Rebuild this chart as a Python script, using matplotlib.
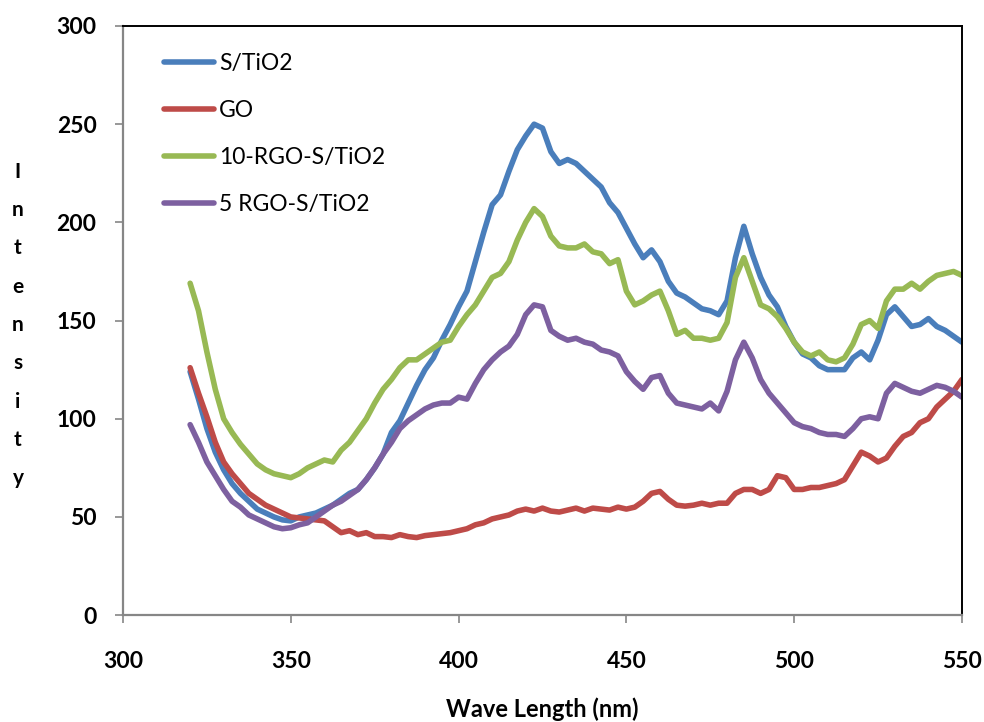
import numpy as np
import matplotlib
matplotlib.use("Agg")
import matplotlib.pyplot as plt

plt.rcParams['font.family'] = ['Lato', 'DejaVu Sans']

# Wavelength grid (nm)
wavelength = np.arange(320, 550.01, 2.5)

s_tio2 = [124, 110, 95, 83, 74, 67, 62, 58, 54, 52, 50, 48.5, 48, 50, 51, 52, 54, 56, 59, 62,
          64, 69, 75, 82, 93, 99, 108, 117, 125, 131, 140, 148, 157, 165, 180, 195, 209, 214, 226, 237,
          244, 250, 248, 236, 230, 232, 230, 226, 222, 218, 210, 205, 197, 189, 182, 186, 180, 170, 164, 162,
          159, 156, 155, 153, 160, 182, 198, 184, 172, 163, 157, 147, 139, 133, 131, 127, 125, 125, 125, 131,
          134, 130, 140, 153, 157, 152, 147, 148, 151, 147, 145, 142, 139]

go = [126, 113, 101, 88, 78, 72, 67, 62, 59, 56, 54, 52, 50, 49.5, 49, 48.5, 48, 45, 42, 43,
      41, 42, 40, 40, 39.5, 41, 40, 39.5, 40.5, 41, 41.5, 42, 43, 44, 46, 47, 49, 50, 51, 53,
      54, 53, 54.5, 53, 52.5, 53.5, 54.5, 53, 54.5, 54, 53.5, 55, 54, 55, 58, 62, 63, 59, 56, 55.5,
      56, 57, 56, 57, 57, 62, 64, 64, 62, 64, 71, 70, 64, 64, 65, 65, 66, 67, 69, 76,
      83, 81, 78, 80, 86, 91, 93, 98, 100, 106, 110, 114, 120]

rgo10_s_tio2 = [169, 155, 134, 115, 100, 93, 87, 82, 77, 74, 72, 71, 70, 72, 75, 77, 79, 78, 84, 88,
                94, 100, 108, 115, 120, 126, 130, 130, 133, 136, 139, 140, 147, 153, 158, 165, 172, 174, 180, 191,
                200, 207, 203, 193, 188, 187, 187, 189, 185, 184, 179, 181, 165, 158, 160, 163, 165, 155, 143, 145,
                141, 141, 140, 141, 149, 172, 182, 170, 158, 156, 152, 146, 139, 134, 132, 134, 130, 129, 131, 138,
                148, 150, 146, 160, 166, 166, 169, 166, 170, 173, 174, 175, 173]

rgo5_s_tio2 = [97, 88, 78, 71, 64, 58, 55, 51, 49, 47, 45, 44, 44.5, 46, 47, 50, 53, 56, 58, 61,
               64, 69, 75, 82, 88, 95, 99, 102, 105, 107, 108, 108, 111, 110, 118, 125, 130, 134, 137, 143,
               153, 158, 157, 145, 142, 140, 141, 139, 138, 135, 134, 132, 124, 119, 115, 121, 122, 113, 108, 107,
               106, 105, 108, 104, 114, 130, 139, 131, 120, 113, 108, 103, 98, 96, 95, 93, 92, 92, 91, 95,
               100, 101, 100, 113, 118, 116, 114, 113, 115, 117, 116, 114, 111]

series_names = ["S/TiO2", "GO", "10-RGO-S/TiO2", "5 RGO-S/TiO2"]
series_colors = ["#4A7EBB", "#BE4B48", "#98B954", "#7D60A0"]

x_ticks = [300, 350, 400, 450, 500, 550]
y_ticks = [0, 50, 100, 150, 200, 250, 300]

fig = plt.figure(figsize=(9.84, 7.22), dpi=100)
ax = fig.add_axes([0.125, 0.148, 0.8526, 0.816])

for vals, name, col in zip([s_tio2, go, rgo10_s_tio2, rgo5_s_tio2], series_names, series_colors):
    ax.plot(wavelength, vals, color=col, lw=4.0, label=name,
            solid_joinstyle='round', solid_capstyle='round')

ax.set_xlim(300, 550)
ax.set_ylim(0, 300)
ax.set_xticks(x_ticks)
ax.set_yticks(y_ticks)

grey = "#868686"
for side in ("left", "bottom"):
    ax.spines[side].set_color(grey)
    ax.spines[side].set_linewidth(1.6)
for side in ("top", "right"):
    ax.spines[side].set_color("black")
    ax.spines[side].set_linewidth(1.4)

ax.tick_params(axis='x', direction='out', length=6, width=1.2, color=grey, pad=20,
               labelsize=16.5)
ax.tick_params(axis='y', direction='out', length=6, width=1.2, color=grey, pad=13,
               labelsize=16.5)
for lab in ax.get_xticklabels() + ax.get_yticklabels():
    lab.set_fontweight('bold')

ax.set_xlabel("Wave Length (nm)", fontsize=17, fontweight='bold', labelpad=18)

# Stacked vertical axis title
letters = list("Intensity")
y_top, y_bot = 172, 478
for i, ch in enumerate(letters):
    ypix = y_top + (y_bot - y_top) * i / (len(letters) - 1)
    fig.text(18 / 984, 1 - ypix / 722, ch, fontsize=15, fontweight='bold',
             ha='center', va='center')

leg = ax.legend(loc='upper left', bbox_to_anchor=(0.0237, 0.989), frameon=False,
                fontsize=16.5, handlelength=2.2, handletextpad=0.22, labelspacing=1.14)
for line in leg.get_lines():
    line.set_linewidth(4.0)

fig.savefig("out.png", dpi=100)
